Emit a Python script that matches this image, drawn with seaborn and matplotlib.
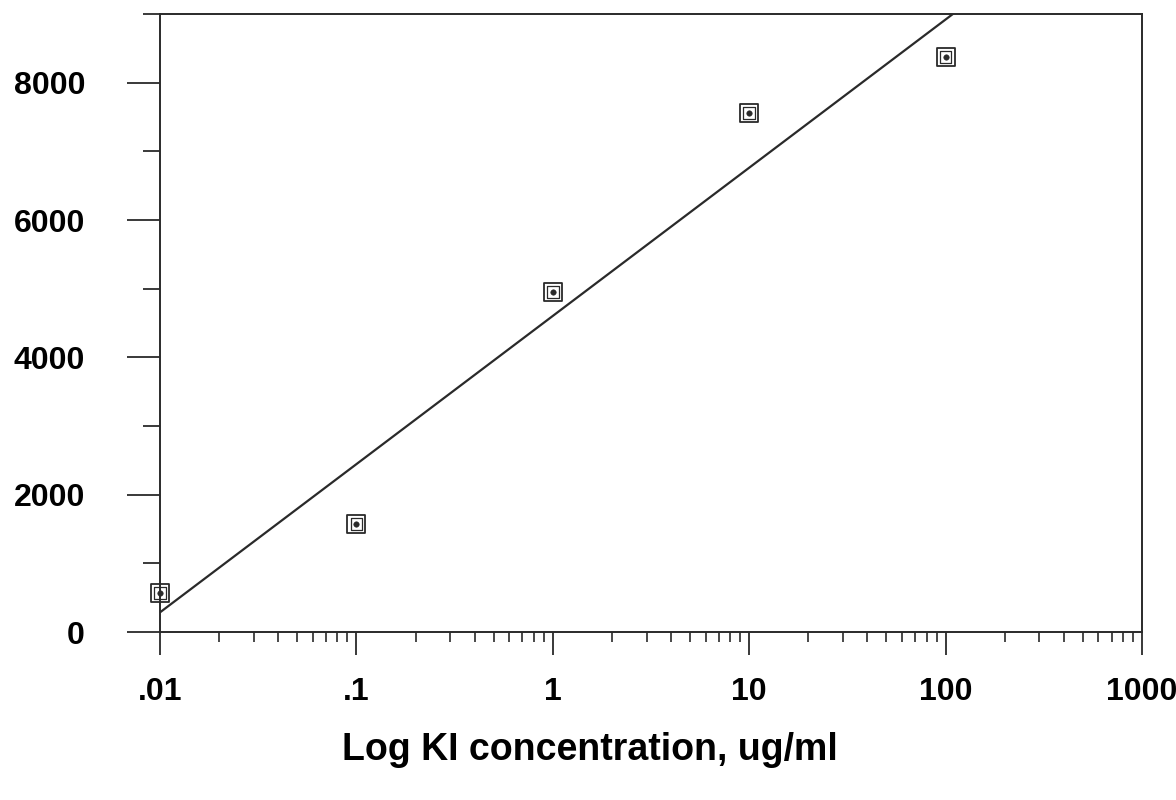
import numpy as np
import pandas as pd
import matplotlib
matplotlib.use("Agg")
import matplotlib.pyplot as plt
import seaborn as sns
from matplotlib.ticker import FixedLocator, NullFormatter

# data
conc = [0.01, 0.1, 1, 10, 100]
signal = [570, 1570, 4950, 7555, 8370]
x_ticks = [0.01, 0.1, 1, 10, 100, 1000]
x_labels = [".01", ".1", "1", "10", "100", "1000"]
y_ticks = [0, 2000, 4000, 6000, 8000]

sns.set_style("ticks")
plt.rcParams["font.family"] = ["Liberation Sans", "DejaVu Sans"]
plt.rcParams["font.weight"] = "bold"

df = pd.DataFrame({"conc": conc, "signal": signal})

# least squares fit of signal against log10(conc)
slope, intercept = np.polyfit(np.log10(df["conc"]), df["signal"], 1)
grid = np.logspace(-2, 3, 200)
fit = pd.DataFrame({"conc": grid, "signal": intercept + slope * np.log10(grid)})

fig = plt.figure(figsize=(11.76, 8), dpi=100)
ax = fig.add_axes([160 / 1176, 1 - 632 / 800, 982 / 1176, 618 / 800])
ink = "#2a2a2a"

sns.lineplot(data=fit, x="conc", y="signal", ax=ax, color=ink, linewidth=1.6)
for mk, size, lw in [("s", 170, 1.3), ("s", 70, 0.9)]:
    sns.scatterplot(data=df, x="conc", y="signal", ax=ax, marker=mk, s=size,
                    facecolor="none", edgecolor=ink, linewidth=lw, zorder=3,
                    clip_on=False)
sns.scatterplot(data=df, x="conc", y="signal", ax=ax, marker="o", s=16,
                color=ink, edgecolor=ink, zorder=4, clip_on=False)

ax.set_xscale("log")
ax.set_xlim(0.01, 1000)
ax.set_ylim(0, 9000)

ax.xaxis.set_major_locator(FixedLocator(x_ticks))
ax.set_xticklabels(x_labels)
minor_x = [m * 10.0 ** e for e in range(-2, 3) for m in range(2, 10)]
ax.xaxis.set_minor_locator(FixedLocator(minor_x))
ax.xaxis.set_minor_formatter(NullFormatter())

ax.yaxis.set_major_locator(FixedLocator(y_ticks))
ax.yaxis.set_minor_locator(FixedLocator([1000, 3000, 5000, 7000, 9000]))

for s in ax.spines.values():
    s.set_visible(True)
    s.set_color(ink)
    s.set_linewidth(1.4)

ax.tick_params(axis="y", which="major", direction="out", length=24, width=1.3,
               color=ink, pad=30, labelsize=23, labelcolor="black")
ax.tick_params(axis="y", which="minor", direction="out", length=12, width=1.3, color=ink)
ax.tick_params(axis="x", which="major", direction="out", length=16.5, width=1.3,
               color=ink, pad=16, labelsize=23, labelcolor="black")
ax.tick_params(axis="x", which="minor", direction="out", length=7, width=1.2, color=ink)
for lab in ax.get_xticklabels() + ax.get_yticklabels():
    lab.set_fontweight("bold")

ax.set_xlabel("")
ax.set_ylabel("")
fig.text(590 / 1176, 1 - 750 / 800, "Log KI concentration, ug/ml", ha="center",
         va="center", fontsize=27, fontweight="bold", color="black")

fig.savefig("out.png", dpi=100, facecolor="white")
